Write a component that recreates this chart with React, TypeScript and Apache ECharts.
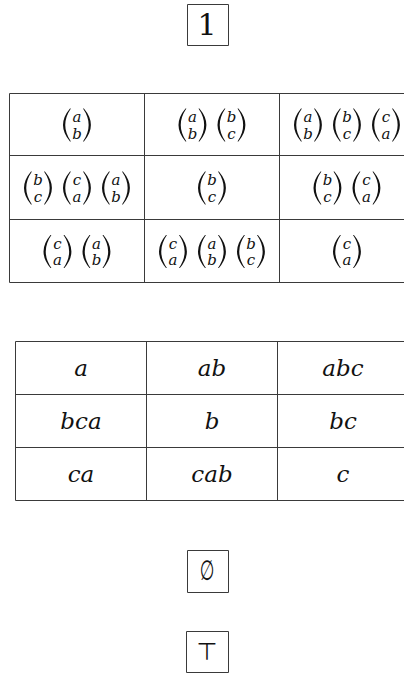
import React, { useEffect, useRef } from "react";
import * as echarts from "echarts";

// ---- data ----
const topSymbol = "1";
const table1Rows: string[][][] = [
  [["ab"], ["ab", "bc"], ["ab", "bc", "ca"]],
  [["bc", "ca", "ab"], ["bc"], ["bc", "ca"]],
  [["ca", "ab"], ["ca", "ab", "bc"], ["ca"]],
];
const table2Rows: string[][] = [
  ["a", "ab", "abc"],
  ["bca", "b", "bc"],
  ["ca", "cab", "c"],
];
const bottomSymbols = ["\u2205", "\u22a4"];

// ---- layout ----
const T1_COLS = [9.5, 144.5, 279.5, 414.5];
const T1_ROWS = [93.5, 155.5, 219.5, 282.5];
const T2_COLS = [15.5, 146.5, 277.5, 408.5];
const T2_ROWS = [341.5, 394.5, 447.5, 500.5];
const LINE = "#3a3a3a";

const LPAREN = "M7,0 Q-7,16.5 7,33 L7.9,33 Q-3.4,16.5 7.9,0 Z";
const RPAREN = "M0.9,0 Q14.9,16.5 0.9,33 L0,33 Q11.3,16.5 0,0 Z";

function tableGrid(cols: number[], rows: number[]): any[] {
  const els: any[] = [];
  rows.forEach((y) => {
    els.push({
      type: "line",
      shape: { x1: cols[0], y1: y, x2: cols[cols.length - 1], y2: y },
      style: { stroke: LINE, lineWidth: 1 },
    });
  });
  cols.forEach((x) => {
    els.push({
      type: "line",
      shape: { x1: x, y1: rows[0], x2: x, y2: rows[rows.length - 1] },
      style: { stroke: LINE, lineWidth: 1 },
    });
  });
  return els;
}

function boxed(cx: number, cy: number, w: number, h: number, text: string, font: string, scaleX = 1): any[] {
  return [
    {
      type: "rect",
      shape: { x: Math.round(cx - w / 2) + 0.5, y: Math.round(cy - h / 2) + 0.5, width: w, height: h },
      style: { fill: "none", stroke: LINE, lineWidth: 1 },
    },
    {
      type: "text",
      x: cx,
      y: cy,
      scaleX,
      style: { text, fill: "#111", align: "center", verticalAlign: "middle", font },
    },
  ];
}

const BW = 28;
const BG = 11;
const PH = 33;

function binom(x0: number, cy: number, top: string, bot: string): any[] {
  const cx = x0 + BW / 2;
  const letter = (t: string, y: number) => ({
    type: "text",
    x: cx,
    y,
    style: {
      text: t,
      fill: "#111",
      font: "italic 15px 'DejaVu Serif'",
      align: "center",
      verticalAlign: "middle",
    },
  });
  return [
    { type: "lparen", x: x0, y: cy - PH / 2 + 0.5, style: { fill: "#111" } },
    { type: "rparen", x: x0 + BW - 8, y: cy - PH / 2 + 0.5, style: { fill: "#111" } },
    letter(top, cy - 7.5),
    letter(bot, cy + 9),
  ];
}

export default function App() {
  const ref = useRef<HTMLDivElement>(null);
  useEffect(() => {
    document.body.style.margin = "0";
    echarts.graphic.registerShape("lparen", echarts.graphic.extendPath(LPAREN, {}) as any);
    echarts.graphic.registerShape("rparen", echarts.graphic.extendPath(RPAREN, {}) as any);
    const chart = echarts.init(ref.current!, undefined, { renderer: "svg" });
    const els: any[] = [];

    // top box
    els.push(...boxed(207, 24, 41, 41, topSymbol, "30px 'DejaVu Serif'"));

    // table 1
    els.push(...tableGrid(T1_COLS, T1_ROWS));
    table1Rows.forEach((row, r) => {
      const cy = (T1_ROWS[r] + T1_ROWS[r + 1]) / 2;
      row.forEach((cell, c) => {
        const cx = (T1_COLS[c] + T1_COLS[c + 1]) / 2;
        const total = cell.length * BW + (cell.length - 1) * BG;
        let x = cx - total / 2;
        cell.forEach((pair) => {
          els.push(...binom(x, cy, pair[0], pair[1]));
          x += BW + BG;
        });
      });
    });

    // table 2
    els.push(...tableGrid(T2_COLS, T2_ROWS));
    table2Rows.forEach((row, r) => {
      const cy = (T2_ROWS[r] + T2_ROWS[r + 1]) / 2;
      row.forEach((cell, c) => {
        const cx = (T2_COLS[c] + T2_COLS[c + 1]) / 2;
        els.push({
          type: "text",
          x: cx,
          y: cy,
          style: {
            text: cell,
            fill: "#111",
            font: "italic 23px 'DejaVu Serif'",
            align: "center",
            verticalAlign: "middle",
          },
        });
      });
    });

    // bottom boxes
    els.push(...boxed(207, 570.5, 41, 42, bottomSymbols[0], "28px 'DejaVu Sans'", 0.6));
    els.push(...boxed(207, 651.5, 42, 41, bottomSymbols[1], "24px 'DejaVu Sans'"));

    chart.setOption({ animation: false, graphic: { elements: els } });
    return () => chart.dispose();
  }, []);
  return (
    <div
      ref={ref}
      style={{ position: "fixed", left: 0, top: 0, width: 404, height: 673, background: "#fff" }}
    />
  );
}
